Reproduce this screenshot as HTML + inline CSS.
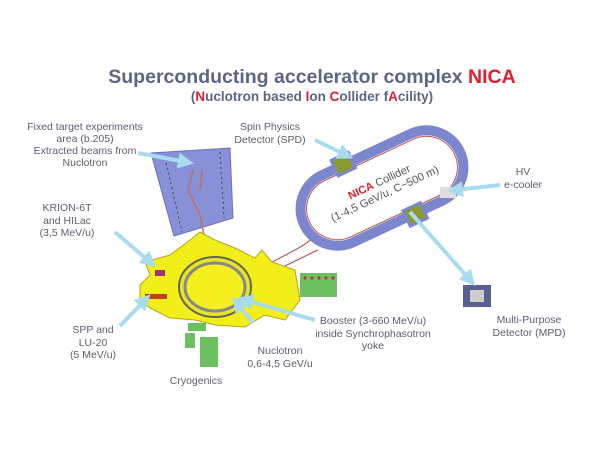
<!DOCTYPE html>
<html><head><meta charset="utf-8"><style>
body{margin:0;background:#fff;}
svg{display:block;font-family:"Liberation Sans",sans-serif;}
.l{font-size:10.5px;fill:#5a5f70;text-anchor:middle;}
</style></head><body>
<svg width="614" height="461" viewBox="0 0 614 461">
<defs>
<marker id="ah" markerWidth="4" markerHeight="4" refX="2" refY="2" orient="auto"><path d="M0,0 L4,2 L0,4z" fill="#a9dbef"/></marker>
</defs>
<text x="312" y="83" text-anchor="middle" font-size="19.5" font-weight="bold" fill="#5d6585">Superconducting accelerator complex <tspan fill="#e02030">NICA</tspan></text>
<text x="312" y="101" text-anchor="middle" font-size="13.5" font-weight="bold" fill="#5d6585">(<tspan fill="#e02030">N</tspan>uclotron based <tspan fill="#e02030">I</tspan>on <tspan fill="#e02030">C</tspan>ollider f<tspan fill="#e02030">A</tspan>cility)</text>

<!-- blue panel -->
<polygon points="151,153 230,148 233,218 174,236" fill="#8890d8" stroke="#6a72b8"/>
<line x1="165" y1="158" x2="182" y2="232" stroke="#444" stroke-dasharray="2,3"/>
<line x1="220" y1="152" x2="224" y2="218" stroke="#444" stroke-dasharray="2,3"/>
<path d="M193,170 L188,190 L200,215 L205,240 M200,190 L202,170" stroke="#c07060" stroke-width="1.5" fill="none"/>

<!-- collider oval -->
<g transform="translate(382,188) rotate(-25)">
<rect x="-86" y="-37" width="172" height="74" rx="37" fill="none" stroke="#7c86cc" stroke-width="10"/>
<rect x="-80" y="-31" width="160" height="62" rx="31" fill="none" stroke="#c05050" stroke-width="1"/>
<rect x="-36" y="-48" width="22" height="20" fill="#7c86cc"/><rect x="-33" y="-45" width="16" height="14" fill="#8a9a30"/>
<rect x="8" y="28" width="22" height="20" fill="#7c86cc"/><rect x="11" y="31" width="16" height="14" fill="#8a9a30"/>
<text x="0" y="-3" text-anchor="middle" font-size="11" fill="#555"><tspan fill="#e02030" font-weight="bold">NICA</tspan> Collider</text>
<text x="0" y="10" text-anchor="middle" font-size="11" fill="#555">(1-4,5 GeV/u, C~500 m)</text>
</g>
<rect x="440" y="187" width="16" height="11" fill="#ddd"/>
<path d="M245,280 C270,260 300,250 310,240" stroke="#b04040" fill="none"/>
<path d="M247,282 C280,270 300,258 318,250" stroke="#b04040" fill="none"/>

<!-- yellow complex -->
<path d="M145,262 L170,255 L190,240 L200,232 L215,240 L235,248 L255,258 L262,250 L272,262 L295,270 L300,300 L285,320 L265,315 L245,327 L215,325 L195,320 L170,318 L150,308 L140,300 L140,285 L150,275 Z" fill="#f2ee1a" stroke="#b0a820"/>
<ellipse cx="215" cy="287" rx="36" ry="30" fill="#e8e428" stroke="#665" stroke-width="2"/>
<ellipse cx="215" cy="287" rx="30" ry="24" fill="#f4f020" stroke="#888" stroke-width="3"/>
<rect x="155" y="270" width="10" height="6" fill="#a03080"/>
<rect x="145" y="294" width="22" height="5" fill="#c04020"/>
<!-- green blocks -->
<rect x="300" y="273" width="37" height="24" fill="#6cc060"/>
<g fill="#b03030"><circle cx="305" cy="278" r="1.5"/><circle cx="312" cy="278" r="1.5"/><circle cx="319" cy="278" r="1.5"/><circle cx="326" cy="278" r="1.5"/><circle cx="333" cy="278" r="1.5"/></g>
<rect x="188" y="323" width="18" height="8" fill="#6cc060"/>
<rect x="185" y="333" width="10" height="15" fill="#6cc060"/>
<rect x="200" y="337" width="18" height="30" fill="#6cc060"/>
<!-- MPD -->
<rect x="463" y="285" width="28" height="22" fill="#5a6090"/><rect x="470" y="290" width="14" height="12" fill="#ccc"/>

<!-- arrows -->
<g stroke="#a9dbef" stroke-width="4" marker-end="url(#ah)" fill="none">
<line x1="138" y1="153" x2="186" y2="162"/>
<line x1="115" y1="232" x2="150" y2="262"/>
<line x1="120" y1="326" x2="145" y2="300"/>
<line x1="253" y1="323" x2="237" y2="303"/>
<line x1="315" y1="320" x2="245" y2="300"/>
<line x1="315" y1="140" x2="346" y2="155"/>
<line x1="500" y1="185" x2="455" y2="190"/>
<line x1="410" y1="212" x2="470" y2="280"/>
</g>

<!-- labels -->
<text class="l" x="85" y="130">Fixed target experiments</text>
<text class="l" x="85" y="142">area (b.205)</text>
<text class="l" x="85" y="154">Extracted beams from</text>
<text class="l" x="85" y="166">Nuclotron</text>
<text class="l" x="270" y="130">Spin Physics</text>
<text class="l" x="270" y="143">Detector (SPD)</text>
<text class="l" x="67" y="211">KRION-6T</text>
<text class="l" x="67" y="224">and HILac</text>
<text class="l" x="67" y="236">(3,5 MeV/u)</text>
<text class="l" x="93" y="333">SPP and</text>
<text class="l" x="93" y="346">LU-20</text>
<text class="l" x="93" y="358">(5 MeV/u)</text>
<text class="l" x="280" y="354">Nuclotron</text>
<text class="l" x="280" y="367">0,6-4,5 GeV/u</text>
<text class="l" x="196" y="384">Cryogenics</text>
<text class="l" x="373" y="324">Booster (3-660 MeV/u)</text>
<text class="l" x="373" y="337">inside Synchrophasotron</text>
<text class="l" x="373" y="349">yoke</text>
<text class="l" x="529" y="323">Multi-Purpose</text>
<text class="l" x="529" y="336">Detector (MPD)</text>
<text class="l" x="523" y="175">HV</text>
<text class="l" x="523" y="188">e-cooler</text>
</svg>
</body></html>
